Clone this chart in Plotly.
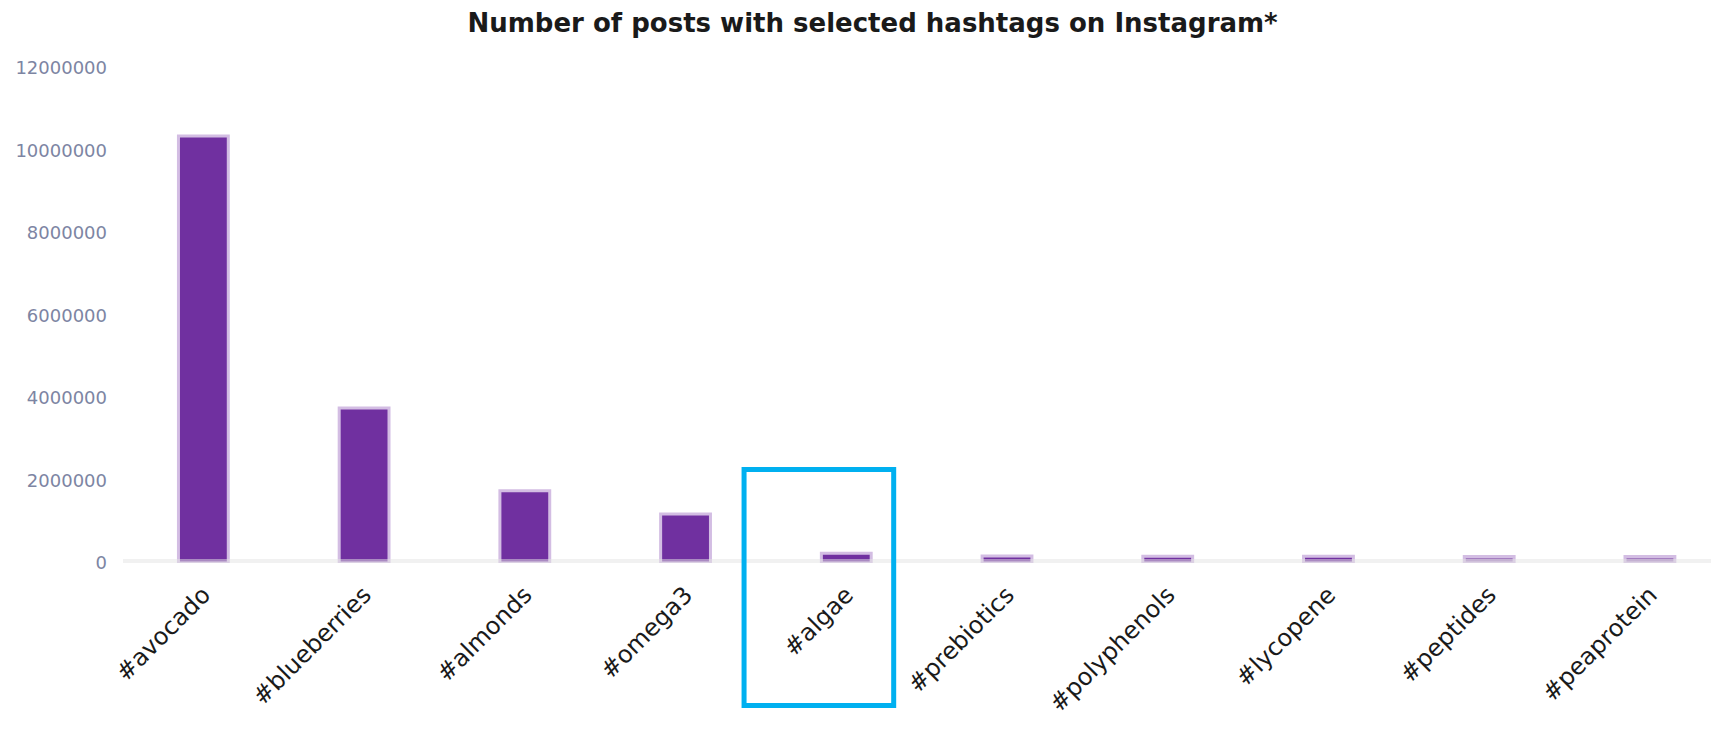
import plotly.graph_objects as go

categories = ["#avocado", "#blueberries", "#almonds", "#omega3", "#algae",
              "#prebiotics", "#polyphenols", "#lycopene", "#peptides", "#peaprotein"]
posts = [10350000, 3760000, 1750000, 1190000, 235000,
         170000, 165000, 165000, 160000, 160000]
bar_colors = ["#7030a0"] * 8 + ["#a47ec0", "#a47ec0"]
y_ticks = [0, 2000000, 4000000, 6000000, 8000000, 10000000, 12000000]
title_text = "Number of posts with selected hashtags on Instagram*"

# highlight box around #algae (axis x units / paper y)
box_x = [3.364, 4.295]
box_y = [-0.288, 0.189]

fig = go.Figure()
fig.add_trace(go.Bar(
    x=categories, y=posts, width=0.31,
    marker=dict(color=bar_colors, line=dict(color="#d3bde3", width=3)),
))

# baseline band (semi-transparent, over bars)
fig.add_shape(type="rect", xref="paper", yref="y", x0=0, x1=1,
              y0=-75000, y1=95000, fillcolor="rgba(228,228,228,0.5)",
              line=dict(width=0), layer="above")
# highlight box
fig.add_shape(type="rect", xref="x", yref="paper",
              x0=box_x[0], x1=box_x[1], y0=box_y[0], y1=box_y[1],
              line=dict(color="#00b0f0", width=5), layer="above")

fig.update_layout(
    width=1711, height=730,
    margin=dict(l=123, r=0, t=68, b=167),
    plot_bgcolor="white", paper_bgcolor="white",
    showlegend=False,
    title=dict(text="<b>" + title_text + "</b>", x=0.51, xanchor="center",
               y=0.969, yanchor="middle", yref="container",
               font=dict(family="DejaVu Sans", size=26, color="#1a1a1a")),
    xaxis=dict(range=[-0.5, 9.38], tickangle=-45, showgrid=False, showline=False,
               ticks="", ticklabelstandoff=12,
               tickfont=dict(family="DejaVu Sans", size=24, color="#1a1a1a")),
    yaxis=dict(range=[0, 12000000], tickvals=y_ticks,
               ticktext=[str(v) for v in y_ticks], showgrid=False,
               zeroline=False, showline=False, ticks="", ticklabelstandoff=15,
               tickfont=dict(family="DejaVu Sans", size=18, color="#7d85a3")),
)

fig.write_html("out.html")
